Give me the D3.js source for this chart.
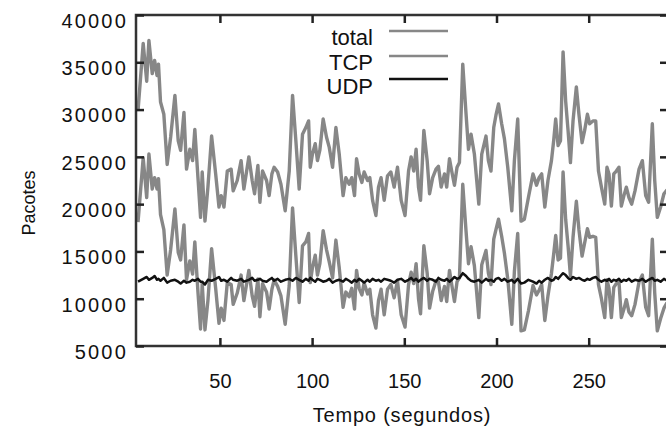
<!DOCTYPE html>
<html>
<head>
<meta charset="utf-8">
<script src="https://cdn.jsdelivr.net/npm/d3@7"></script>
<style>
  html, body { margin: 0; padding: 0; background: #fff; }
  svg { display: block; }
  text { font-family: "Liberation Sans", Arial, Helvetica, sans-serif; fill: #111; }
</style>
</head>
<body>
<svg id="chart" width="666" height="435"></svg>
<script>
// ---- data ----
const tempo = [5.6,8.4,10.3,11.5,13.3,14.6,15.9,16.7,17.8,19.6,
  21.4,23.3,25.6,27.4,28.7,30.5,31.9,33.7,35.2,36.4,
  38.1,39.5,40.4,41.9,43.5,45.5,47.7,49.5,50.7,52.2,
  54.0,56.1,57.2,59.4,61.5,63.0,65.7,67.5,68.8,70.6,
  71.7,73.1,75.3,76.7,78.2,79.4,81.3,83.1,85.4,87.6,
  89.4,91.2,93.0,94.8,96.6,98.1,99.0,100.2,101.7,102.9,
  104.2,106.0,107.8,109.3,111.1,112.9,114.7,116.8,118.3,120.1,
  121.5,123.0,124.1,125.5,127.0,128.2,130.1,131.3,132.8,134.6,
  136.0,137.4,139.1,140.9,142.7,144.5,146.3,148.3,150.4,152.3,
  153.7,155.1,156.4,157.7,158.8,160.6,162.4,163.7,165.4,167.2,
  168.5,170.0,171.8,173.0,174.5,175.7,177.2,178.6,179.9,181.7,
  183.5,184.8,186.2,188.0,190.4,192.0,194.3,195.6,197.0,198.5,
  199.7,201.1,202.8,204.3,206.1,208.3,209.7,211.5,213.3,215.1,
  217.3,219.8,221.7,223.1,224.5,226.2,227.9,229.8,231.0,232.1,
  233.4,234.7,236.1,237.5,238.8,240.1,241.5,243.3,244.7,246.4,
  247.8,249.3,250.5,252.3,253.8,255.3,256.9,258.7,259.9,261.0,
  262.3,263.6,265.0,266.4,267.7,269.1,270.4,271.8,273.3,275.1,
  277.3,279.1,280.9,282.5,284.5,285.8,287.2,289.0,290.8,292.5];

const total = [29900,37000,33000,37300,33800,35200,33600,34800,30800,29500,
  24200,27100,31500,26700,25700,29700,23700,25800,24600,27900,
  22800,18600,23400,18200,21800,27200,23200,19700,20900,19700,
  23500,23700,21400,22500,24600,21600,25000,22500,21100,24100,
  20200,23500,22500,20900,23200,23900,23400,22100,19300,23500,
  31500,26700,21600,27400,28100,28800,23900,25300,26400,24600,
  25700,29000,27100,26000,23900,28100,25300,20900,22800,22100,
  22800,20900,24800,23200,22300,23400,22500,22800,20400,18800,
  21800,22800,20400,23000,23400,21800,23900,20400,18800,23500,
  25000,23500,25800,21800,20400,27800,24600,21100,22800,23700,
  24000,21800,23200,21800,24800,23500,22000,23900,24400,34800,
  29500,25800,27400,25300,20000,25300,27200,24600,23500,28100,
  29400,30600,28500,26900,23900,19300,24600,29000,18200,18400,
  20700,23200,22000,22800,23200,19700,22500,24600,26700,29000,
  26200,26700,36100,30900,27800,24400,28800,32400,29500,26500,
  27800,29500,28500,28800,28800,23500,21800,20000,23900,23200,
  19800,23200,23500,23900,19800,20900,21800,20700,20000,21400,
  23700,24600,20900,20200,28500,22500,18600,19700,21100,21500];

const tcp = [18100,24900,20700,25300,21600,22800,21600,22700,18900,17300,
  12500,15200,19500,14900,14100,17800,12000,14000,12600,16000,
  10700,6800,11600,6700,9800,15300,11100,7400,9000,7700,
  11700,11500,9400,10600,12500,9800,13000,10300,9200,12100,
  8100,11600,10700,8900,11000,12000,11300,10300,7300,11400,
  19600,14500,9600,15600,16000,16900,11700,13300,14600,12500,
  13700,17200,15200,13900,12200,16200,13300,9100,10700,10200,
  11100,8900,13000,11100,10400,11700,10500,11000,8300,6900,
  9800,11000,8300,11000,11500,10100,11900,8300,7000,11500,
  12800,11600,13700,10000,8400,15600,12700,9000,10800,11900,
  11800,9800,11300,9700,13000,11500,9700,11800,12200,22100,
  17100,13700,15500,13500,8000,13600,15100,12700,11500,16300,
  17300,18400,16600,14800,12100,7300,12900,16900,6600,6700,
  8700,11400,10400,10900,11500,7700,10300,12700,14700,16700,
  14100,14300,23400,18400,15600,12400,16500,20300,17300,14500,
  15900,17400,16500,16600,16500,11500,10000,8000,12000,11100,
  8000,11200,11600,11800,8000,8900,9900,8600,8200,9400,
  11800,12500,9100,8200,16300,10600,6600,7900,9000,9600];

const udp = [11800,12100,12300,12000,12200,12400,12000,12100,11900,12200,
  11700,11900,12000,11800,11600,11900,11700,11800,12000,11900,
  12100,11800,11800,11500,12000,11900,12100,12300,11900,12000,
  11800,12200,12000,11900,12100,11800,12000,12200,11900,12000,
  12100,11900,11800,12000,12200,11900,12100,11800,12000,12100,
  11900,12200,12000,11800,12100,11900,12200,12000,11800,12100,
  12000,11800,11900,12100,11700,11900,12000,11800,12100,11900,
  11700,12000,11800,12100,11900,11700,12000,11800,12100,11900,
  12000,11800,12100,12000,11900,11700,12000,12100,11800,12000,
  12200,11900,12100,11800,12000,12200,11900,12100,12000,11800,
  12200,12000,11900,12100,11800,12000,12300,12100,12200,12700,
  12400,12100,11900,11800,12000,11700,12100,11900,12000,11800,
  12100,12200,11900,12100,11800,12000,11700,12100,11600,11700,
  12000,11800,11600,11900,11700,12000,12200,11900,12000,12300,
  12100,12400,12700,12500,12200,12000,12300,12100,12200,12000,
  11900,12100,12000,12200,12300,12000,11800,12000,11900,12100,
  11800,12000,11900,12100,11800,12000,11900,12100,11800,12000,
  11900,12100,11800,12000,12200,11900,12000,11800,12100,11900];

const yTicks = [5000,10000,15000,20000,25000,30000,35000,40000];
const xTicks = [50,100,150,200,250];
const seriesNames = ["total","TCP","UDP"];

// ---- layout ----
const svg = d3.select("#chart");
const pLeft = 136, pRight = 668, pTop = 15, pBottom = 346;
const x = d3.scaleLinear().domain([4.5, 293]).range([pLeft, pRight]);
const y = d3.scaleLinear().domain([5000, 40000]).range([pBottom, pTop]);

const grayCol = "#878787";
const styles = {
  total: { color: grayCol, width: 3.4 },
  TCP:   { color: grayCol, width: 3.4 },
  UDP:   { color: "#111", width: 2.5 }
};

svg.append("defs").append("clipPath").attr("id", "clip")
  .append("rect").attr("x", pLeft).attr("y", pTop)
  .attr("width", pRight - pLeft).attr("height", pBottom - pTop);

const line = d3.line().x(d => x(d[0])).y(d => y(d[1])).curve(d3.curveLinear);
const data = {
  total: tempo.map((t, i) => [t, total[i]]),
  TCP: tempo.map((t, i) => [t, tcp[i]]),
  UDP: tempo.map((t, i) => [t, udp[i]])
};

const plot = svg.append("g").attr("clip-path", "url(#clip)");
seriesNames.forEach(name => {
  plot.append("path")
    .datum(data[name])
    .attr("fill", "none")
    .attr("stroke", styles[name].color)
    .attr("stroke-width", styles[name].width)
    .attr("stroke-linejoin", "round")
    .attr("d", line);
});

// ---- frame ----
svg.append("rect").attr("x", pLeft).attr("y", pTop)
  .attr("width", pRight - pLeft).attr("height", pBottom - pTop)
  .attr("fill", "none").attr("stroke", "#333").attr("stroke-width", 2.5);

// ---- axes (ticks inward, mirrored) ----
const tl = 8;
const fmt = d3.format("d");
const axB = svg.append("g").attr("transform", `translate(0,${pBottom})`)
  .call(d3.axisBottom(x).tickValues(xTicks).tickFormat(fmt).tickSizeInner(-tl).tickSizeOuter(0).tickPadding(28));
const axT = svg.append("g").attr("transform", `translate(0,${pTop})`)
  .call(d3.axisTop(x).tickValues(xTicks).tickSizeInner(-tl).tickSizeOuter(0).tickFormat(""));
const axL = svg.append("g").attr("transform", `translate(${pLeft},0)`)
  .call(d3.axisLeft(y).tickValues(yTicks).tickFormat(fmt).tickSizeInner(-tl).tickSizeOuter(0).tickPadding(8));
const axR = svg.append("g").attr("transform", `translate(${pRight},0)`)
  .call(d3.axisRight(y).tickValues(yTicks).tickSizeInner(-tl).tickSizeOuter(0).tickFormat(""));

[axB, axT, axL, axR].forEach(a => {
  a.select(".domain").remove();
  a.selectAll(".tick line").attr("stroke", "#222").attr("stroke-width", 2.5);
});
axB.selectAll(".tick text")
  .attr("font-size", 20).attr("fill", "#111")
  .attr("font-family", "Liberation Sans, Arial, sans-serif");
axL.selectAll(".tick text")
  .attr("font-size", 20).attr("fill", "#111")
  .attr("font-family", "Liberation Sans, Arial, sans-serif")
  .attr("letter-spacing", "2.2px")
  .attr("dy", "0.62em");

// ---- axis titles ----
svg.append("text").attr("x", 402).attr("y", 422)
  .attr("text-anchor", "middle").attr("font-size", 20)
  .attr("letter-spacing", "0.8px")
  .text("Tempo (segundos)");
svg.append("text").attr("transform", "translate(35,203) rotate(-90)")
  .attr("text-anchor", "middle").attr("font-size", 18)
  .text("Pacotes");

// ---- legend ----
const legY = [45, 69.5, 94];
const legLineY = [31, 56, 79];
seriesNames.forEach((name, i) => {
  svg.append("text").attr("x", 373).attr("y", legY[i])
    .attr("text-anchor", "end").attr("font-size", 22)
    .text(name);
  svg.append("line")
    .attr("x1", 389).attr("x2", 448)
    .attr("y1", legLineY[i]).attr("y2", legLineY[i])
    .attr("stroke", styles[name].color)
    .attr("stroke-width", name === "UDP" ? 2.5 : 2.5);
});
</script>
</body>
</html>
